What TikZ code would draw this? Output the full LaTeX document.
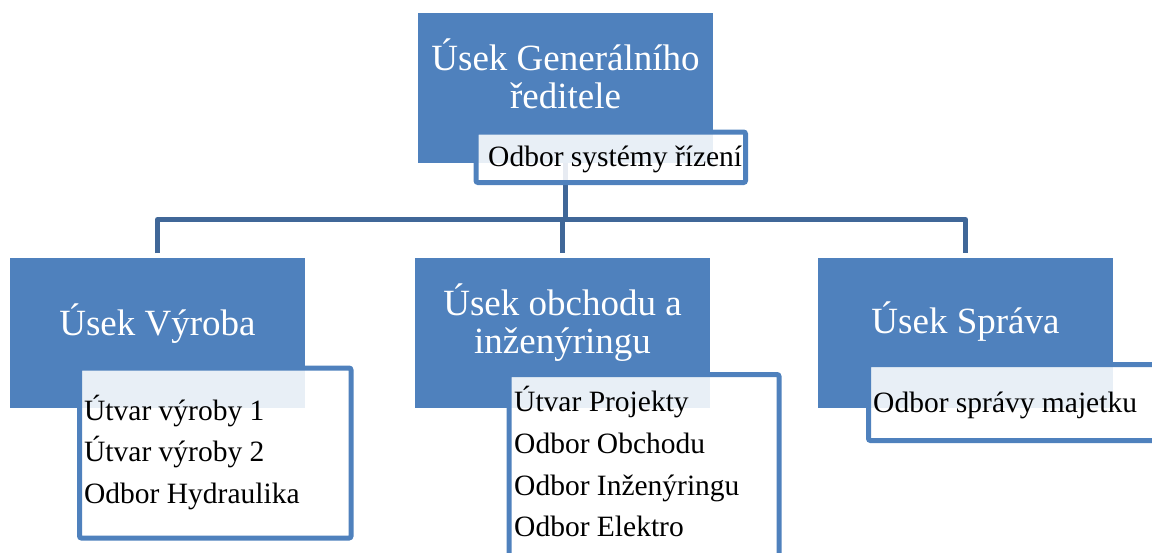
\documentclass[tikz,border=0pt]{standalone}
\usepackage{fontspec}
\setmainfont{Liberation Serif}
\definecolor{accent}{RGB}{79,129,189}
\definecolor{linkblue}{RGB}{64,103,152}
\begin{document}
\begin{tikzpicture}[x=1pt,y=-1pt,
  unit/.style={fill=accent,draw=none,minimum width=295pt,minimum height=150pt,
    inner sep=0pt,outer sep=0pt,anchor=north west},
  dept/.style={draw=accent,line width=5pt,fill=white,fill opacity=0.875,
    rounded corners=2pt,inner sep=0pt,outer sep=0pt,anchor=north west},
  conn/.style={draw=linkblue,line width=5pt,line join=round},
  headtext/.style={text=white,inner sep=0pt,anchor=base,
    font=\fontsize{37}{38}\selectfont},
  itemtext/.style={text=black,inner sep=0pt,anchor=base west,
    font=\fontsize{29.5}{36}\selectfont}]
\clip (0,0) rectangle (1152,552);

% level one: director and three divisions
\node[unit] (gen) at (418,13) {};
\node[unit] (vyr) at (10,258) {};
\node[unit] (obch) at (415,258) {};
\node[unit] (spr) at (818,258) {};

% connectors
\coordinate (bar) at (0,219.5);
\draw[conn] (gen.south) -- (gen.south |- bar);
\draw[conn] ([yshift=5pt]vyr.north) |- (bar -| spr.north) -- ([yshift=5pt]spr.north);
\draw[conn] (obch.north |- bar) -- ([yshift=5pt]obch.north);

% departments attached to each unit
\node[dept,minimum width=269.5pt,minimum height=50.5pt] (gensub) at (476,132) {};
\node[dept,minimum width=271.5pt,minimum height=170pt] (vyrsub) at (79.5,368) {};
\node[dept,minimum width=270pt,minimum height=215pt] (obchsub) at (509,374.5) {};
\node[dept,minimum width=311.5pt,minimum height=76pt] (sprsub) at (868.5,364.5) {};

% unit titles
\node[headtext] (gen1) at (565.5,70) {Úsek Generálního};
\node[headtext] (gen2) at (565.5,108.3) {ředitele};
\node[headtext] (vyr1) at (157.5,335) {Úsek Výroba};
\node[headtext] (obch1) at (562.5,315) {Úsek obchodu a};
\node[headtext] (obch2) at (562.5,353) {inženýringu};
\node[headtext] (spr1) at (965.5,333) {Úsek Správa};

% department lists
\node[itemtext] (g1) at (488,166) {Odbor systémy řízení};
\node[itemtext] (v1) at (84,420) {Útvar výroby 1};
\node[itemtext] (v2) at (84,461.5) {Útvar výroby 2};
\node[itemtext] (v3) at (84,503) {Odbor Hydraulika};
\node[itemtext] (o1) at (514,411.7) {Útvar Projekty};
\node[itemtext] (o2) at (514,453.4) {Odbor Obchodu};
\node[itemtext] (o3) at (514,495.1) {Odbor Inženýringu};
\node[itemtext] (o4) at (514,536.8) {Odbor Elektro};
\node[itemtext] (s1) at (873,412) {Odbor správy majetku};
\end{tikzpicture}
\end{document}
